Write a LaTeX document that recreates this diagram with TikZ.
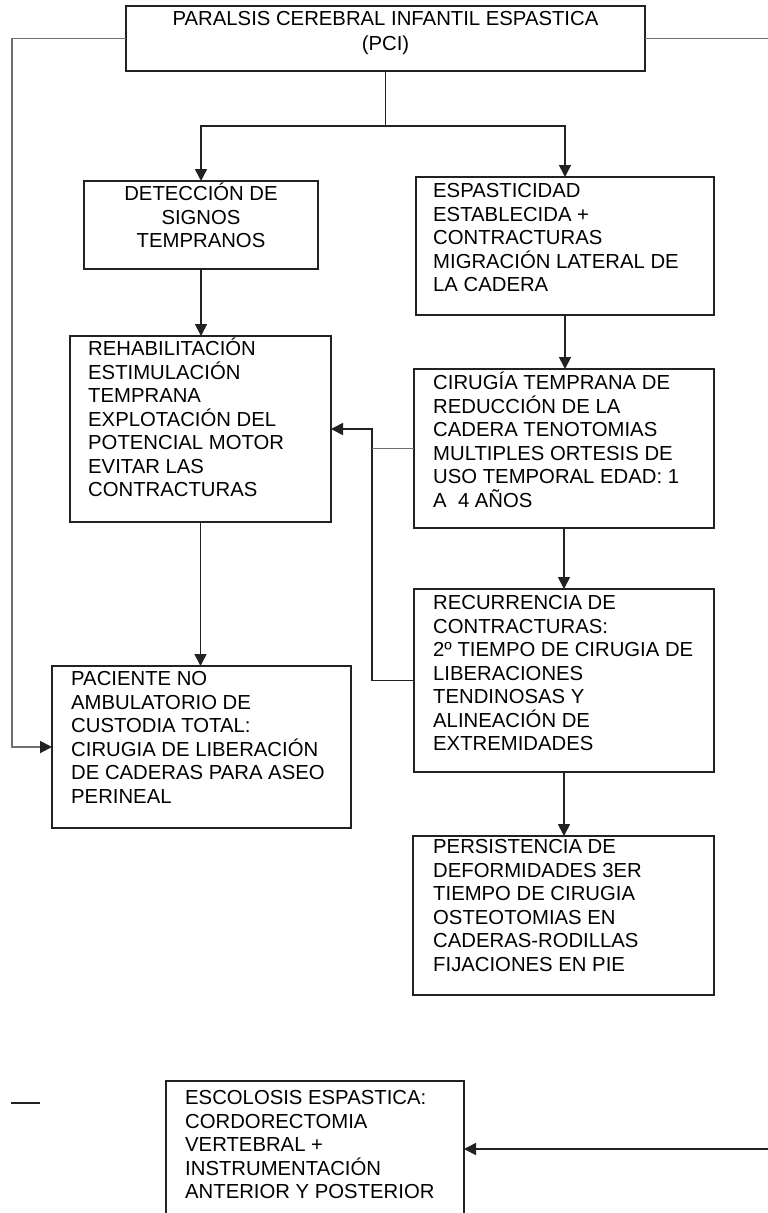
\documentclass[tikz,border=0pt]{standalone}
\usepackage{fontspec}
\setmainfont{Liberation Sans}
\usetikzlibrary{arrows.meta}
\definecolor{linedark}{HTML}{222222}
\definecolor{linegray}{HTML}{707070}
\newcommand{\boxfont}{\fontsize{20.3}{23.5}\selectfont}
% top strut without depth, taller than accented capitals, so every first line sits alike
\newcommand{\topstrut}{\rule{0pt}{19pt}}
\begin{document}
\begin{tikzpicture}[x=1pt,y=-1pt,
  box/.style={draw=linedark, line width=1.8pt, fill=none, inner sep=0pt, outer sep=0pt, anchor=north west},
  txt/.style={inner sep=0pt, align=left, anchor=north west, font=\boxfont, text=black},
  ctxt/.style={inner sep=0pt, align=center, anchor=north, font=\boxfont, text=black},
  conn/.style={draw=linedark, line width=1.7pt},
  arrow/.style={conn, -{Triangle[length=12pt,width=12pt]}},
  gconn/.style={draw=linegray, line width=1.9pt},
  garrow/.style={gconn, -{Triangle[length=12pt,width=12pt,color=linedark]}}]
\clip (0,0) rectangle (768,1213);

% boxes
\node[box, minimum width=519pt, minimum height=65pt] (top) at (126,6) {};
\node[box, minimum width=234pt, minimum height=88pt] (det) at (84,181) {};
\node[box, minimum width=261pt, minimum height=186pt] (reh) at (70,336) {};
\node[box, minimum width=299pt, minimum height=162pt] (pac) at (52,666) {};
\node[box, minimum width=298pt, minimum height=138pt] (esp) at (416,177) {};
\node[box, minimum width=300pt, minimum height=159pt] (cir) at (414,369) {};
\node[box, minimum width=300pt, minimum height=183pt] (rec) at (414,589) {};
\node[box, minimum width=301pt, minimum height=159pt] (per) at (413,836) {};
\node[box, minimum width=298pt, minimum height=160pt] (esc) at (166,1081) {};

% texts
\node[ctxt] (toptxt) at (385.5,6.3) {\topstrut PARALSIS CEREBRAL INFANTIL ESPASTICA\\[1.5pt] (PCI)};
\node[ctxt] (dettxt) at (201,181.3) {\topstrut DETECCIÓN DE\\ SIGNOS\\ TEMPRANOS};
\node[txt] (rehtxt) at (88,336.3) {\topstrut REHABILITACIÓN\\ ESTIMULACIÓN\\ TEMPRANA\\ EXPLOTACIÓN DEL\\ POTENCIAL MOTOR\\ EVITAR LAS\\ CONTRACTURAS};
\node[txt] (pactxt) at (71,666.3) {\topstrut PACIENTE NO\\ AMBULATORIO DE\\ CUSTODIA TOTAL:\\ CIRUGIA DE LIBERACIÓN\\ DE CADERAS PARA ASEO\\ PERINEAL};
\node[txt] (esptxt) at (433,178.3) {\topstrut ESPASTICIDAD\\ ESTABLECIDA +\\ CONTRACTURAS\\ MIGRACIÓN LATERAL DE\\ LA CADERA};
\node[txt] (cirtxt) at (433,370.3) {\topstrut CIRUGÍA TEMPRANA DE\\ REDUCCIÓN DE LA\\ CADERA TENOTOMIAS\\ MULTIPLES ORTESIS DE\\ USO TEMPORAL EDAD: 1\\ A\ \ 4 AÑOS};
\node[txt] (rectxt) at (433,590.3) {\topstrut RECURRENCIA DE\\ CONTRACTURAS:\\ 2º TIEMPO DE CIRUGIA DE\\ LIBERACIONES\\ TENDINOSAS Y\\ ALINEACIÓN DE\\ EXTREMIDADES};
\node[txt] (pertxt) at (433,834.3) {\topstrut PERSISTENCIA DE\\ DEFORMIDADES 3ER\\ TIEMPO DE CIRUGIA\\ OSTEOTOMIAS EN\\ CADERAS-RODILLAS\\ FIJACIONES EN PIE};
\node[txt] (esctxt) at (185,1085.3) {\topstrut ESCOLOSIS ESPASTICA:\\ CORDORECTOMIA\\ VERTEBRAL +\\ INSTRUMENTACIÓN\\ ANTERIOR Y POSTERIOR};

% auxiliary points
\coordinate (split) at (385.5,126);
\coordinate (lcorner) at (12,747);
\coordinate (redge) at (768,38.5);
\coordinate (fb) at (372,680.5);
\coordinate (resc) at (768,1149);
\coordinate (d1) at (11,1103);
\coordinate (d2) at (40,1103);

% main flow
\draw[conn] (top.south) -- (split);
\draw[arrow] (split) -| (det.north);
\draw[arrow] (split) -| (esp.north);
\draw[arrow] (det.south) -- (det.south |- reh.north);
\draw[arrow] (reh.south) -- (reh.south |- pac.north);
\draw[arrow] (esp.south) -- (esp.south |- cir.north);
\draw[arrow] (cir.south) -- (cir.south |- rec.north);
\draw[arrow] (rec.south) -- (rec.south |- per.north);

% side connections
\draw[garrow] (top.west) -| (lcorner) -- (pac.west);
\draw[gconn] (top.east) -- (redge);
\draw[arrow] (rec.west) -- (fb) |- (reh.east);
\draw[gconn] (cir.west) -- (cir.west -| fb);
\draw[arrow] (resc) -- (resc -| esc.east);
\draw[conn] (d1) -- (d2);
\end{tikzpicture}
\end{document}
